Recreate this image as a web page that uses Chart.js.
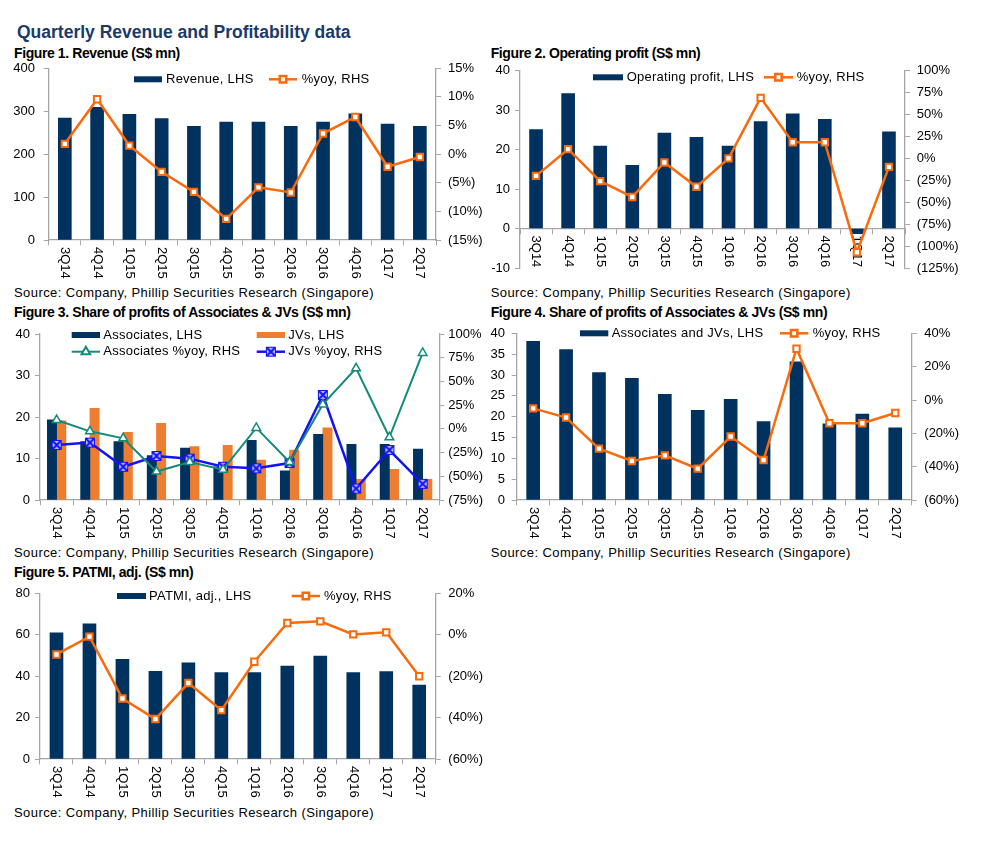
<!DOCTYPE html>
<html><head><meta charset="utf-8">
<script src="https://cdn.jsdelivr.net/npm/chart.js@4.4.1/dist/chart.umd.min.js"></script>
<style>
body{margin:0;background:#fff;width:987px;height:842px;position:relative;overflow:hidden;font-family:"Liberation Sans",Arial,sans-serif;}
.t{position:absolute;white-space:nowrap;color:#000;}
.title{font-weight:bold;font-size:17.5px;color:#1a3a6c;line-height:20px;}
.cap{font-weight:bold;font-size:14px;letter-spacing:-0.4px;line-height:16px;}
.src{font-size:13px;line-height:16px;letter-spacing:0.42px;}
canvas{position:absolute;}
</style></head><body>
<div class="t title" style="left:17px;top:22px;">Quarterly Revenue and Profitability data</div>
<div class="t cap" style="left:14px;top:44.7px;">Figure 1. Revenue (S$ mn)</div>
<div class="t cap" style="left:490.7px;top:44.7px;">Figure 2. Operating profit (S$ mn)</div>
<div class="t cap" style="left:14px;top:304px;">Figure 3. Share of profits of Associates &amp; JVs (S$ mn)</div>
<div class="t cap" style="left:490.7px;top:303.7px;">Figure 4. Share of profits of Associates &amp; JVs (S$ mn)</div>
<div class="t cap" style="left:14px;top:564px;">Figure 5. PATMI, adj. (S$ mn)</div>
<div class="t src" style="left:14px;top:285px;">Source: Company, Phillip Securities Research (Singapore)</div>
<div class="t src" style="left:490.7px;top:285px;">Source: Company, Phillip Securities Research (Singapore)</div>
<div class="t src" style="left:14px;top:545px;">Source: Company, Phillip Securities Research (Singapore)</div>
<div class="t src" style="left:490.7px;top:545px;">Source: Company, Phillip Securities Research (Singapore)</div>
<div class="t src" style="left:14px;top:805px;">Source: Company, Phillip Securities Research (Singapore)</div>
<script>
// ---- data ----
const categories = ['3Q14','4Q14','1Q15','2Q15','3Q15','4Q15','1Q16','2Q16','3Q16','4Q16','1Q17','2Q17'];
const revenue      = [284, 309, 293, 283, 265, 275, 275, 265, 275, 294, 270, 265];
const revenueYoy   = [1.8, 9.6, 1.5, -3.1, -6.6, -11.3, -5.8, -6.7, 3.6, 6.5, -2.2, -0.5];
const opProfit     = [25.1, 34.2, 20.9, 16.0, 24.2, 23.1, 20.9, 27.1, 29.1, 27.7, -1.3, 24.5];
const opProfitYoy  = [-19.9, 10.5, -26, -44, -4.7, -32.4, 0, 69, 18.4, 18.4, -107, -9.7];
const associates   = [19.3, 14.1, 14.1, 10.7, 12.5, 8.0, 14.4, 7.0, 15.8, 13.4, 13.4, 12.3];
const jvs          = [19.1, 22.1, 16.3, 18.5, 12.9, 13.2, 9.6, 12.0, 17.4, 5.0, 7.4, 5.0];
const assocYoy     = [9.3, -2.6, -10, -45, -35, -43, 1, -35, 25.8, 63.8, -8.9, 80];
const jvYoy        = [-17, -14.5, -40, -28.6, -31.4, -40, -41.6, -36, 35.7, -63, -22.3, -58];
const assocJv      = [38.1, 36.1, 30.6, 29.2, 25.4, 21.5, 24.2, 18.8, 33.2, 18.3, 20.6, 17.3];
const assocJvYoy   = [-5, -10.5, -29.2, -36.6, -33.2, -41.2, -21.9, -36, 30.8, -13.9, -13.9, -7.8];
const patmi        = [61.0, 65.3, 48.1, 42.4, 46.5, 41.8, 41.8, 44.9, 49.7, 41.8, 42.2, 35.7];
const patmiYoy     = [-9.5, -0.9, -30.8, -40.7, -23.3, -36.4, -13, 5.7, 6.5, 0.2, 1.2, -20];

// ---- styles ----
const NAVY = '#00325f', ORANGE_LINE = '#f96a0c', ORANGE_BAR = '#ed7d31', TEAL = '#148a7b', BLUE = '#1414f0', AXIS = '#a6a6a6';
const FONT = '"Liberation Sans", Arial, sans-serif';
const pct = v => v < 0 ? '(' + (-v) + '%)' : v + '%';

function makeXMarker(){
  const c = document.createElement('canvas'); c.width = 12; c.height = 12;
  const g = c.getContext('2d');
  g.fillStyle = '#b8b8ff'; g.fillRect(1,1,10,10);
  g.strokeStyle = BLUE; g.lineWidth = 1; g.strokeRect(1.5,1.5,9,9);
  g.lineWidth = 2; g.beginPath(); g.moveTo(2,2); g.lineTo(10,10); g.moveTo(10,2); g.lineTo(2,10); g.stroke();
  return c;
}
const X_MARK = makeXMarker();

const barDs = (label, data, color, thick) => ({type:'bar', label, data, yAxisID:'yL', backgroundColor:color, borderWidth:0, barThickness:thick, order:2});
const lineDs = (label, data, color, style, radius, lw, pbw) => ({type:'line', label, data, yAxisID:'yR', borderColor:color, borderWidth:lw,
  pointStyle:style, pointRadius:radius, pointBorderWidth:pbw, pointBackgroundColor:'#fff', pointBorderColor:color, tension:0, fill:false, order:0, clip:false});

const xLabels = {id:'xl', beforeDatasetsDraw(chart){
  const ctx = chart.ctx, xs = chart.scales.x, y0 = chart.scales.yL.getPixelForValue(0) + 7;
  ctx.save(); ctx.font = '13px ' + FONT; ctx.fillStyle = '#000'; ctx.textAlign = 'left'; ctx.textBaseline = 'middle';
  chart.data.labels.forEach((lb, i) => { ctx.save(); ctx.translate(xs.getPixelForValue(i), y0); ctx.rotate(Math.PI/2); ctx.fillText(lb, 0, 0); ctx.restore(); });
  ctx.restore();
}};

function legendPlugin(items, box){
  return {id:'lg', afterDraw(chart){
    const ctx = chart.ctx; ctx.save();
    ctx.font = '13px ' + FONT; ctx.textBaseline = 'middle'; ctx.textAlign = 'left';
    for (const it of items){
      const x1 = it.x1 - box.x, x2 = it.x2 - box.x, y = it.y - box.y;
      if (it.kind === 'bar'){ ctx.fillStyle = it.color; ctx.fillRect(x1, y - 3, x2 - x1, 6); }
      else {
        ctx.strokeStyle = it.color; ctx.lineWidth = it.lw; ctx.beginPath(); ctx.moveTo(x1, y); ctx.lineTo(x2, y); ctx.stroke();
        ctx.fillStyle = '#fff'; ctx.strokeStyle = it.color;
        Chart.helpers.drawPoint(ctx, {pointStyle:it.style, radius:it.radius, borderWidth:it.pbw, rotation:0}, (x1 + x2)/2, y);
      }
      ctx.fillStyle = '#000';
      if ('letterSpacing' in ctx) ctx.letterSpacing = '0.25px';
      ctx.fillText(it.text, it.tx - box.x, y);
      if ('letterSpacing' in ctx) ctx.letterSpacing = '0px';
    }
    ctx.restore();
  }};
}

function makeChart(spec){
  const b = spec.box, a = spec.area;
  const cv = document.createElement('canvas');
  cv.width = b.w; cv.height = b.h; cv.style.left = b.x + 'px'; cv.style.top = b.y + 'px';
  document.body.appendChild(cv);
  const lw = a.l - b.x, rw = b.x + b.w - a.r;
  const tickFont = {family:FONT, size:13};
  return new Chart(cv, {
    type:'bar',
    data:{labels:categories, datasets:spec.datasets},
    options:{
      responsive:false, animation:false,
      layout:{padding:{top:a.t - b.y, bottom:b.y + b.h - a.b, left:0, right:0}},
      plugins:{legend:{display:false}, tooltip:{enabled:false}},
      scales:{
        x:{type:'category', axis:'x', offset:true, position:{yL:0},
           grid:{display:true, drawOnChartArea:false, drawTicks:true, tickLength:5, color:AXIS, offset:true},
           border:{display:true, color:AXIS, width:1.3}, ticks:{display:false}},
        yL:{type:'linear', position:'left', min:spec.left.min, max:spec.left.max,
           ticks:{stepSize:spec.left.step, color:'#000', font:tickFont, padding:spec.left.pad, autoSkip:false},
           grid:{drawOnChartArea:false, tickLength:5, color:AXIS}, border:{color:AXIS, width:1.3},
           afterFit:s => { s.width = lw; }},
        yR:{type:'linear', position:'right', min:spec.right.min, max:spec.right.max,
           ticks:{stepSize:spec.right.step, color:'#000', font:tickFont, padding:spec.right.pad, autoSkip:false, callback:pct},
           grid:{drawOnChartArea:false, tickLength:5, color:AXIS}, border:{color:AXIS, width:1.3},
           afterFit:s => { s.width = rw; }}
      }
    },
    plugins:[xLabels, legendPlugin(spec.legend, b)]
  });
}

// Figure 1
makeChart({box:{x:0,y:48,w:487,h:252}, area:{l:48.7,t:68.3,r:436,b:240},
  left:{min:0,max:400,step:100,pad:8.7}, right:{min:-15,max:15,step:5,pad:7},
  datasets:[barDs('Revenue, LHS', revenue, NAVY, 13), lineDs('%yoy, RHS', revenueYoy, ORANGE_LINE, 'rect', 4.5, 2.5, 2)],
  legend:[{kind:'bar', color:NAVY, x1:134, x2:162, y:79.3, tx:166, text:'Revenue, LHS'},
          {kind:'line', color:ORANGE_LINE, lw:2.5, style:'rect', radius:4.5, pbw:2, x1:269, x2:297, y:79.3, tx:301.7, text:'%yoy, RHS'}]});

// Figure 2
makeChart({box:{x:487,y:50,w:500,h:250}, area:{l:520,t:70.7,r:905,b:268},
  left:{min:-10,max:40,step:10,pad:5}, right:{min:-125,max:100,step:25,pad:6.7},
  datasets:[barDs('Operating profit, LHS', opProfit, NAVY, 13), lineDs('%yoy, RHS', opProfitYoy, ORANGE_LINE, 'rect', 4.5, 2.5, 2)],
  legend:[{kind:'bar', color:NAVY, x1:593, x2:623, y:77.3, tx:626.7, text:'Operating profit, LHS'},
          {kind:'line', color:ORANGE_LINE, lw:2.5, style:'rect', radius:4.5, pbw:2, x1:764, x2:793, y:77.3, tx:796.7, text:'%yoy, RHS'}]});

// Figure 3
makeChart({box:{x:0,y:318,w:487,h:242}, area:{l:40,t:334,r:439.3,b:500},
  left:{min:0,max:40,step:10,pad:5}, right:{min:-75,max:100,step:25,pad:4},
  datasets:[barDs('Associates, LHS', associates, NAVY, 9.3), barDs('JVs, LHS', jvs, ORANGE_BAR, 9.3),
            lineDs('Associates %yoy, RHS', assocYoy, TEAL, 'triangle', 5, 2, 1.5),
            lineDs('JVs %yoy, RHS', jvYoy, BLUE, X_MARK, 6, 2.5, 0)],
  legend:[{kind:'bar', color:NAVY, x1:71.7, x2:100, y:335, tx:103.3, text:'Associates, LHS'},
          {kind:'bar', color:ORANGE_BAR, x1:256.7, x2:285, y:335, tx:288.3, text:'JVs, LHS'},
          {kind:'line', color:TEAL, lw:2, style:'triangle', radius:5, pbw:1.5, x1:71.7, x2:100, y:351.7, tx:103.3, text:'Associates %yoy, RHS'},
          {kind:'line', color:BLUE, lw:2.5, style:X_MARK, radius:6, pbw:0, x1:256.7, x2:285, y:351.7, tx:288.3, text:'JVs %yoy, RHS'}]});

// Figure 4
makeChart({box:{x:487,y:318,w:500,h:242}, area:{l:516.7,t:332.3,r:911.7,b:500},
  left:{min:0,max:40,step:5,pad:6.7}, right:{min:-60,max:40,step:20,pad:7.6},
  datasets:[barDs('Associates and JVs, LHS', assocJv, NAVY, 13), lineDs('%yoy, RHS', assocJvYoy, ORANGE_LINE, 'rect', 4.5, 2.5, 2)],
  legend:[{kind:'bar', color:NAVY, x1:580, x2:608.3, y:333.3, tx:611.7, text:'Associates and JVs, LHS'},
          {kind:'line', color:ORANGE_LINE, lw:2.5, style:'rect', radius:4.5, pbw:2, x1:780, x2:808.3, y:333.3, tx:812.7, text:'%yoy, RHS'}]});

// Figure 5
makeChart({box:{x:0,y:578,w:487,h:232}, area:{l:40,t:591.7,r:435.7,b:759},
  left:{min:0,max:80,step:20,pad:5}, right:{min:-60,max:20,step:20,pad:7.6},
  datasets:[barDs('PATMI, adj., LHS', patmi, NAVY, 13), lineDs('%yoy, RHS', patmiYoy, ORANGE_LINE, 'rect', 4.5, 2.5, 2)],
  legend:[{kind:'bar', color:NAVY, x1:117, x2:146, y:596, tx:149, text:'PATMI, adj., LHS'},
          {kind:'line', color:ORANGE_LINE, lw:2.5, style:'rect', radius:4.5, pbw:2, x1:291.7, x2:320, y:596, tx:324, text:'%yoy, RHS'}]});
</script>
</body></html>
